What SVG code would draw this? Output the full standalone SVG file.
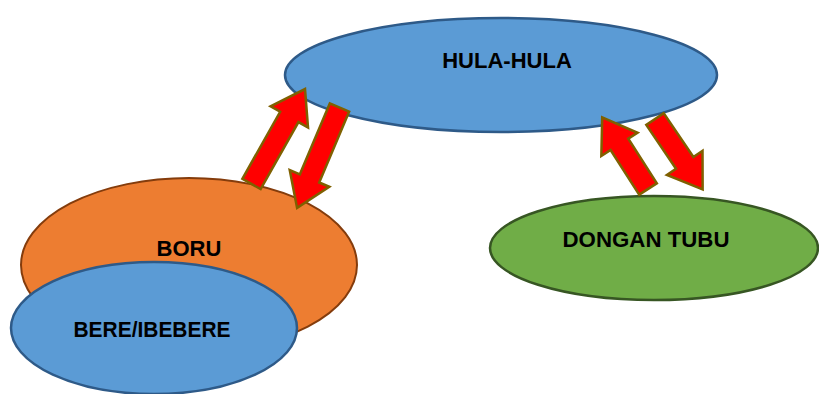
<svg xmlns="http://www.w3.org/2000/svg" width="819" height="394" viewBox="0 0 819 394">
<style>
.lbl{font-family:"Liberation Sans",Arial,sans-serif;font-weight:bold;font-size:22px;fill:#000;text-anchor:middle}
.blue{fill:#5B9BD5;stroke:#2E5A88;stroke-width:2.5}
.orange{fill:#ED7D31;stroke:#843C0C;stroke-width:2}
.green{fill:#70AD47;stroke:#375623;stroke-width:2.5}
.arrow{fill:#FF0000;stroke:#7F6000;stroke-width:2.5;stroke-linejoin:miter}
</style>
<defs>
<polygon id="arrowL" points="0,-10.5 77,-10.5 77,-21.5 109,0 77,21.5 77,10.5 0,10.5"/>
<polygon id="arrowS" points="0,-10.5 53,-10.5 53,-21.5 85,0 53,21.5 53,10.5 0,10.5"/>
</defs>
<rect width="819" height="394" fill="#fff"/>
<g id="hula-hula">
<ellipse class="blue" cx="501" cy="75" rx="216" ry="57"/>
<text class="lbl" x="507" y="68">HULA-HULA</text>
</g>
<g id="boru">
<ellipse class="orange" cx="189" cy="265" rx="168" ry="87"/>
<text class="lbl" x="189" y="256">BORU</text>
</g>
<g id="bere-ibebere">
<ellipse class="blue" cx="154" cy="328" rx="143" ry="66"/>
<text class="lbl" x="152" y="337" textLength="157" lengthAdjust="spacingAndGlyphs">BERE/IBEBERE</text>
</g>
<g id="dongan-tubu">
<ellipse class="green" cx="654" cy="248" rx="164" ry="52"/>
<text class="lbl" x="646" y="247" textLength="167" lengthAdjust="spacingAndGlyphs">DONGAN TUBU</text>
</g>
<g id="connectors">
<use href="#arrowL" class="arrow" transform="translate(251.5,184) rotate(-60.6)"/>
<use href="#arrowL" class="arrow" transform="translate(339.5,107.5) rotate(112.9)"/>
<use href="#arrowS" class="arrow" transform="translate(648,189) rotate(-122.6)"/>
<use href="#arrowS" class="arrow" transform="translate(655,119) rotate(55.9)"/>
</g>
</svg>
